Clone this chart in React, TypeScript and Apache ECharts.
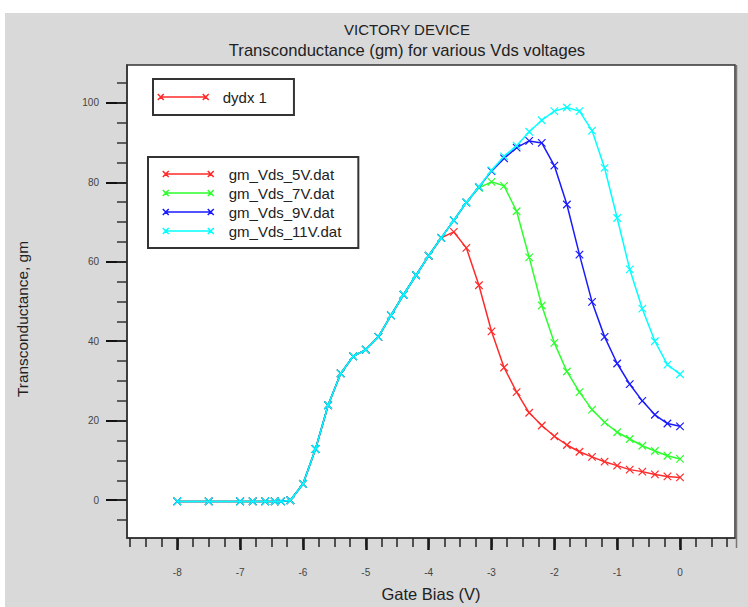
import React, { useEffect, useRef } from "react";
import * as echarts from "echarts";

// ---- data ----
const seriesNames = ["gm_Vds_5V.dat", "gm_Vds_7V.dat", "gm_Vds_9V.dat", "gm_Vds_11V.dat"];
const seriesColors = ["#ff2a2a", "#2cff2c", "#1a1aff", "#00ffff"];

// shared sub-threshold / rising part (all Vds curves coincide here)
const riseX = [-8, -7.5, -7, -6.8, -6.6, -6.45, -6.35, -6.2, -6.0, -5.8, -5.6, -5.4, -5.2, -5.0, -4.8, -4.6, -4.4, -4.2, -4.0, -3.8];
const riseY = [-0.3, -0.3, -0.3, -0.3, -0.3, -0.3, -0.3, 0, 4.1, 12.9, 23.9, 31.9, 36.2, 37.9, 41.1, 46.5, 51.7, 56.6, 61.5, 66.0];

// gate bias points after the common part
const tailX = [-3.6, -3.4, -3.2, -3.0, -2.8, -2.6, -2.4, -2.2, -2.0, -1.8, -1.6, -1.4, -1.2, -1.0, -0.8, -0.6, -0.4, -0.2, 0];
const gm5V = [67.5, 63.5, 54.1, 42.5, 33.4, 27.2, 22.0, 18.8, 16.1, 13.9, 12.2, 10.9, 9.7, 8.7, 7.7, 7.2, 6.5, 6.0, 5.75];
const gm7V = [70.4, 74.9, 78.6, 80.1, 79.1, 72.7, 61.1, 49.0, 39.6, 32.4, 27.2, 22.8, 19.6, 17.1, 15.4, 13.7, 12.4, 11.2, 10.4];
const gm9V = [70.4, 74.9, 78.8, 82.8, 86.0, 88.7, 90.4, 89.9, 84.2, 74.4, 61.8, 49.9, 41.1, 34.4, 29.2, 25.0, 21.5, 19.3, 18.6];
const gm11V = [70.4, 74.9, 78.8, 83.0, 86.5, 89.2, 92.7, 95.6, 97.9, 98.8, 97.9, 93.0, 83.6, 71.0, 58.1, 48.2, 40.0, 34.1, 31.7];
const tails = [gm5V, gm7V, gm9V, gm11V];

// axis ticks / labels
const xMajor = [-8, -7, -6, -5, -4, -3, -2, -1, 0];
const xMinor = [-8.75, -8.5, -8.25, -8, -7.75, -7.5, -7.25, -7, -6.75, -6.5, -6.25, -6, -5.75, -5.5, -5.25, -5, -4.75, -4.5, -4.25, -4, -3.75, -3.5, -3.25, -3, -2.75, -2.5, -2.25, -2, -1.75, -1.5, -1.25, -1, -0.75, -0.5, -0.25, 0, 0.25, 0.5, 0.75];
const yMajor = [0, 20, 40, 60, 80, 100];
const yMinor = [-5, 0, 5, 10, 15, 20, 25, 30, 35, 40, 45, 50, 55, 60, 65, 70, 75, 80, 85, 90, 95, 100, 105];

const FONT = "'Liberation Sans', Arial, sans-serif";
const X_MARK = "path://M0,0L10,10M10,0L0,10";
const LEGEND_ICON = "path://M3,3L48,3M0,0L6,6M6,0L0,6M45,0L51,6M51,0L45,6";

export default function App() {
  const ref = useRef<HTMLDivElement>(null);

  useEffect(() => {
    if (!ref.current) return;
    const chart = echarts.init(ref.current, undefined, { renderer: "svg" });

    const dataSeries = seriesNames.map((name, i) => ({
      name,
      type: "line",
      xAxisIndex: 0,
      yAxisIndex: 0,
      data: riseX.concat(tailX).map((x, k) => [x, riseY.concat(tails[i])[k]]),
      symbol: X_MARK,
      symbolSize: 7.5,
      lineStyle: { color: seriesColors[i], width: 1.5 },
      itemStyle: { color: seriesColors[i], borderColor: seriesColors[i], borderWidth: 1.2 },
      emphasis: { disabled: true },
      z: 2 + i,
    }));

    const option: any = {
      animation: false,
      backgroundColor: "#ffffff",
      textStyle: { fontFamily: FONT },
      title: [
        {
          text: "VICTORY DEVICE",
          left: 407,
          top: 22,
          textAlign: "center",
          padding: 0,
          textStyle: { fontSize: 15, fontWeight: "normal", color: "#222", fontFamily: FONT },
        },
        {
          text: "Transconductance (gm) for various Vds voltages",
          left: 407,
          top: 42,
          textAlign: "center",
          padding: 0,
          textStyle: { fontSize: 16.6, fontWeight: "normal", color: "#222", fontFamily: FONT },
        },
      ],
      graphic: [
        {
          type: "rect",
          z: -10,
          silent: true,
          shape: { x: 5, y: 13, width: 743, height: 594 },
          style: { fill: "#d9d9d9" },
        },
        {
          type: "line",
          z: 10,
          silent: true,
          shape: { x1: 736.5, y1: 65, x2: 736.5, y2: 548 },
          style: { stroke: "#777", lineWidth: 1.5 },
        },
        {
          type: "text",
          z: 10,
          x: 22,
          y: 319,
          rotation: Math.PI / 2,
          style: {
            text: "Transconductance, gm",
            fontSize: 15.4,
            fontFamily: FONT,
            fill: "#222",
            align: "center",
            verticalAlign: "middle",
          },
        },
      ],
      legend: [
        {
          data: ["dydx 1"],
          left: 153,
          top: 79,
          orient: "vertical",
          selectedMode: false,
          padding: [9, 27, 9, 4],
          itemWidth: 51,
          itemHeight: 6,
          icon: LEGEND_ICON,
          itemStyle: { borderWidth: 1.5, borderColor: "inherit" },
          backgroundColor: "#fff",
          borderColor: "#333",
          borderWidth: 2,
          borderRadius: 0,
          textStyle: { fontSize: 15, color: "#222", fontFamily: FONT, lineHeight: 18, padding: [0, 0, 0, 9] },
        },
        {
          data: seriesNames,
          left: 148,
          top: 157,
          orient: "vertical",
          selectedMode: false,
          padding: [9, 17, 9, 14],
          itemGap: 3,
          itemWidth: 51,
          itemHeight: 6,
          icon: LEGEND_ICON,
          itemStyle: { borderWidth: 1.5, borderColor: "inherit" },
          backgroundColor: "#fff",
          borderColor: "#333",
          borderWidth: 2,
          borderRadius: 0,
          textStyle: { fontSize: 15, color: "#222", fontFamily: FONT, lineHeight: 16, padding: [0, 0, 0, 10] },
        },
      ],
      grid: {
        left: 127,
        top: 65,
        width: 608,
        height: 482,
        show: true,
        backgroundColor: "#ffffff",
        borderColor: "#333",
        borderWidth: 1.5,
        containLabel: false,
      },
      xAxis: [
        {
          type: "value",
          min: -8.8,
          max: 0.875,
          position: "bottom",
          name: "Gate Bias (V)",
          nameLocation: "middle",
          nameGap: 47,
          nameTextStyle: { fontSize: 16.5, color: "#222", fontFamily: FONT },
          splitLine: { show: false },
          axisLine: { show: true, onZero: false, lineStyle: { color: "#333", width: 1.5 } },
          axisTick: { show: true, inside: false, length: 12, customValues: xMajor, lineStyle: { color: "#111", width: 2.5 } },
          axisLabel: { show: true, margin: 29, customValues: xMajor, fontSize: 10, color: "#444", fontFamily: FONT },
        },
        {
          type: "value",
          min: -8.8,
          max: 0.875,
          position: "bottom",
          offset: 0,
          splitLine: { show: false },
          axisLine: { show: false, onZero: false },
          axisTick: { show: true, inside: false, length: 9, customValues: xMinor, lineStyle: { color: "#222", width: 1.5 } },
          axisLabel: { show: false },
        },
      ],
      yAxis: [
        {
          type: "value",
          min: -9.5,
          max: 109.5,
          position: "left",
          splitLine: { show: false },
          axisLine: { show: true, onZero: false, lineStyle: { color: "#333", width: 1.5 } },
          axisTick: { show: true, inside: false, length: 21, customValues: yMajor, lineStyle: { color: "#111", width: 2 } },
          axisLabel: { show: true, margin: 28, customValues: yMajor, fontSize: 10, color: "#444", fontFamily: FONT },
        },
        {
          type: "value",
          min: -9.5,
          max: 109.5,
          position: "left",
          offset: 0,
          splitLine: { show: false },
          axisLine: { show: false, onZero: false },
          axisTick: { show: true, inside: false, length: 10, customValues: yMinor, lineStyle: { color: "#333", width: 1.5 } },
          axisLabel: { show: false },
        },
      ],
      series: [
        {
          name: "dydx 1",
          type: "line",
          data: [],
          symbol: X_MARK,
          symbolSize: 7.5,
          lineStyle: { color: "#ff2a2a", width: 1.5 },
          itemStyle: { color: "#ff2a2a", borderColor: "#ff2a2a", borderWidth: 1.2 },
        },
        ...dataSeries,
      ],
    };

    chart.setOption(option);
    return () => chart.dispose();
  }, []);

  return (
    <div
      ref={ref}
      style={{ position: "absolute", left: 0, top: 0, width: 748, height: 607 }}
    />
  );
}
